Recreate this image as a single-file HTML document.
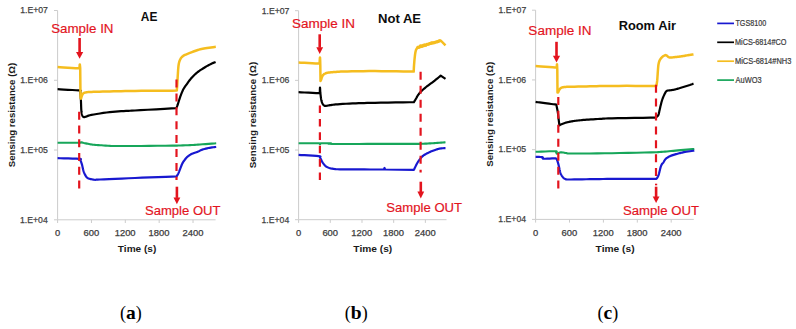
<!DOCTYPE html>
<html><head><meta charset="utf-8"><title>Sensing resistance</title>
<style>
html,body{margin:0;padding:0;background:#fff;}
body{width:796px;height:329px;overflow:hidden;font-family:"Liberation Sans", sans-serif;}
svg{display:block;}
</style></head><body>
<svg width="796" height="329" viewBox="0 0 796 329">
<line x1="57.60" y1="10.50" x2="57.60" y2="219.80" stroke="#cccccc" stroke-width="1.00"/>
<line x1="57.60" y1="219.80" x2="215.60" y2="219.80" stroke="#cccccc" stroke-width="1.00"/>
<line x1="54.00" y1="10.50" x2="57.60" y2="10.50" stroke="#cccccc" stroke-width="1.00"/>
<text x="20.24" y="13.30" font-family='"Liberation Sans", sans-serif' font-size="9.60" font-weight="normal" fill="#404040" text-anchor="start" textLength="27.70" lengthAdjust="spacingAndGlyphs" stroke="#404040" stroke-width="0.25">1.E+07</text>
<line x1="54.00" y1="80.27" x2="57.60" y2="80.27" stroke="#cccccc" stroke-width="1.00"/>
<text x="20.19" y="83.07" font-family='"Liberation Sans", sans-serif' font-size="9.60" font-weight="normal" fill="#404040" text-anchor="start" textLength="27.70" lengthAdjust="spacingAndGlyphs" stroke="#404040" stroke-width="0.25">1.E+06</text>
<line x1="54.00" y1="150.03" x2="57.60" y2="150.03" stroke="#cccccc" stroke-width="1.00"/>
<text x="20.17" y="152.83" font-family='"Liberation Sans", sans-serif' font-size="9.60" font-weight="normal" fill="#404040" text-anchor="start" textLength="27.70" lengthAdjust="spacingAndGlyphs" stroke="#404040" stroke-width="0.25">1.E+05</text>
<line x1="54.00" y1="219.80" x2="57.60" y2="219.80" stroke="#cccccc" stroke-width="1.00"/>
<text x="20.06" y="222.60" font-family='"Liberation Sans", sans-serif' font-size="9.60" font-weight="normal" fill="#404040" text-anchor="start" textLength="27.70" lengthAdjust="spacingAndGlyphs" stroke="#404040" stroke-width="0.25">1.E+04</text>
<line x1="57.60" y1="219.80" x2="57.60" y2="223.00" stroke="#cccccc" stroke-width="1.00"/>
<text x="54.99" y="235.80" font-family='"Liberation Sans", sans-serif' font-size="8.31" font-weight="normal" fill="#404040" text-anchor="start" textLength="5.21" lengthAdjust="spacingAndGlyphs" stroke="#404040" stroke-width="0.25">0</text>
<line x1="91.46" y1="219.80" x2="91.46" y2="223.00" stroke="#cccccc" stroke-width="1.00"/>
<text x="83.58" y="235.80" font-family='"Liberation Sans", sans-serif' font-size="8.31" font-weight="normal" fill="#404040" text-anchor="start" textLength="15.64" lengthAdjust="spacingAndGlyphs" stroke="#404040" stroke-width="0.25">600</text>
<line x1="125.31" y1="219.80" x2="125.31" y2="223.00" stroke="#cccccc" stroke-width="1.00"/>
<text x="114.71" y="235.80" font-family='"Liberation Sans", sans-serif' font-size="8.31" font-weight="normal" fill="#404040" text-anchor="start" textLength="20.86" lengthAdjust="spacingAndGlyphs" stroke="#404040" stroke-width="0.25">1200</text>
<line x1="159.17" y1="219.80" x2="159.17" y2="223.00" stroke="#cccccc" stroke-width="1.00"/>
<text x="148.57" y="235.80" font-family='"Liberation Sans", sans-serif' font-size="8.31" font-weight="normal" fill="#404040" text-anchor="start" textLength="20.86" lengthAdjust="spacingAndGlyphs" stroke="#404040" stroke-width="0.25">1800</text>
<line x1="193.03" y1="219.80" x2="193.03" y2="223.00" stroke="#cccccc" stroke-width="1.00"/>
<text x="182.55" y="235.80" font-family='"Liberation Sans", sans-serif' font-size="8.31" font-weight="normal" fill="#404040" text-anchor="start" textLength="20.86" lengthAdjust="spacingAndGlyphs" stroke="#404040" stroke-width="0.25">2400</text>
<text x="117.89" y="252.00" font-family='"Liberation Sans", sans-serif' font-size="9.66" font-weight="bold" fill="#1a1a1a" text-anchor="start" textLength="38.41" lengthAdjust="spacingAndGlyphs">Time (s)</text>
<text x="-0.28" y="0" transform="translate(14.60,167.00) rotate(-90)" font-family='"Liberation Sans", sans-serif' font-size="8.43" font-weight="bold" fill="#1a1a1a" textLength="104.56" lengthAdjust="spacingAndGlyphs">Sensing resistance (Ω)</text>
<line x1="298.60" y1="10.70" x2="298.60" y2="219.70" stroke="#cccccc" stroke-width="1.00"/>
<line x1="298.60" y1="219.70" x2="446.50" y2="219.70" stroke="#cccccc" stroke-width="1.00"/>
<line x1="295.00" y1="10.70" x2="298.60" y2="10.70" stroke="#cccccc" stroke-width="1.00"/>
<text x="261.74" y="13.50" font-family='"Liberation Sans", sans-serif' font-size="9.60" font-weight="normal" fill="#404040" text-anchor="start" textLength="27.70" lengthAdjust="spacingAndGlyphs" stroke="#404040" stroke-width="0.25">1.E+07</text>
<line x1="295.00" y1="80.37" x2="298.60" y2="80.37" stroke="#cccccc" stroke-width="1.00"/>
<text x="261.69" y="83.17" font-family='"Liberation Sans", sans-serif' font-size="9.60" font-weight="normal" fill="#404040" text-anchor="start" textLength="27.70" lengthAdjust="spacingAndGlyphs" stroke="#404040" stroke-width="0.25">1.E+06</text>
<line x1="295.00" y1="150.03" x2="298.60" y2="150.03" stroke="#cccccc" stroke-width="1.00"/>
<text x="261.67" y="152.83" font-family='"Liberation Sans", sans-serif' font-size="9.60" font-weight="normal" fill="#404040" text-anchor="start" textLength="27.70" lengthAdjust="spacingAndGlyphs" stroke="#404040" stroke-width="0.25">1.E+05</text>
<line x1="295.00" y1="219.70" x2="298.60" y2="219.70" stroke="#cccccc" stroke-width="1.00"/>
<text x="261.56" y="222.50" font-family='"Liberation Sans", sans-serif' font-size="9.60" font-weight="normal" fill="#404040" text-anchor="start" textLength="27.70" lengthAdjust="spacingAndGlyphs" stroke="#404040" stroke-width="0.25">1.E+04</text>
<line x1="298.60" y1="219.70" x2="298.60" y2="222.90" stroke="#cccccc" stroke-width="1.00"/>
<text x="295.99" y="235.80" font-family='"Liberation Sans", sans-serif' font-size="8.31" font-weight="normal" fill="#404040" text-anchor="start" textLength="5.21" lengthAdjust="spacingAndGlyphs" stroke="#404040" stroke-width="0.25">0</text>
<line x1="330.29" y1="219.70" x2="330.29" y2="222.90" stroke="#cccccc" stroke-width="1.00"/>
<text x="322.42" y="235.80" font-family='"Liberation Sans", sans-serif' font-size="8.31" font-weight="normal" fill="#404040" text-anchor="start" textLength="15.64" lengthAdjust="spacingAndGlyphs" stroke="#404040" stroke-width="0.25">600</text>
<line x1="361.99" y1="219.70" x2="361.99" y2="222.90" stroke="#cccccc" stroke-width="1.00"/>
<text x="351.38" y="235.80" font-family='"Liberation Sans", sans-serif' font-size="8.31" font-weight="normal" fill="#404040" text-anchor="start" textLength="20.86" lengthAdjust="spacingAndGlyphs" stroke="#404040" stroke-width="0.25">1200</text>
<line x1="393.68" y1="219.70" x2="393.68" y2="222.90" stroke="#cccccc" stroke-width="1.00"/>
<text x="383.08" y="235.80" font-family='"Liberation Sans", sans-serif' font-size="8.31" font-weight="normal" fill="#404040" text-anchor="start" textLength="20.86" lengthAdjust="spacingAndGlyphs" stroke="#404040" stroke-width="0.25">1800</text>
<line x1="425.37" y1="219.70" x2="425.37" y2="222.90" stroke="#cccccc" stroke-width="1.00"/>
<text x="414.89" y="235.80" font-family='"Liberation Sans", sans-serif' font-size="8.31" font-weight="normal" fill="#404040" text-anchor="start" textLength="20.86" lengthAdjust="spacingAndGlyphs" stroke="#404040" stroke-width="0.25">2400</text>
<text x="353.39" y="252.00" font-family='"Liberation Sans", sans-serif' font-size="9.66" font-weight="bold" fill="#1a1a1a" text-anchor="start" textLength="38.82" lengthAdjust="spacingAndGlyphs">Time (s)</text>
<text x="-0.28" y="0" transform="translate(255.50,167.90) rotate(-90)" font-family='"Liberation Sans", sans-serif' font-size="8.58" font-weight="bold" fill="#1a1a1a" textLength="106.37" lengthAdjust="spacingAndGlyphs">Sensing resistance (Ω)</text>
<line x1="535.60" y1="10.20" x2="535.60" y2="219.40" stroke="#cccccc" stroke-width="1.00"/>
<line x1="535.60" y1="219.40" x2="693.80" y2="219.40" stroke="#cccccc" stroke-width="1.00"/>
<line x1="532.00" y1="10.20" x2="535.60" y2="10.20" stroke="#cccccc" stroke-width="1.00"/>
<text x="498.54" y="13.00" font-family='"Liberation Sans", sans-serif' font-size="9.60" font-weight="normal" fill="#404040" text-anchor="start" textLength="27.70" lengthAdjust="spacingAndGlyphs" stroke="#404040" stroke-width="0.25">1.E+07</text>
<line x1="532.00" y1="79.93" x2="535.60" y2="79.93" stroke="#cccccc" stroke-width="1.00"/>
<text x="498.49" y="82.73" font-family='"Liberation Sans", sans-serif' font-size="9.60" font-weight="normal" fill="#404040" text-anchor="start" textLength="27.70" lengthAdjust="spacingAndGlyphs" stroke="#404040" stroke-width="0.25">1.E+06</text>
<line x1="532.00" y1="149.67" x2="535.60" y2="149.67" stroke="#cccccc" stroke-width="1.00"/>
<text x="498.47" y="152.47" font-family='"Liberation Sans", sans-serif' font-size="9.60" font-weight="normal" fill="#404040" text-anchor="start" textLength="27.70" lengthAdjust="spacingAndGlyphs" stroke="#404040" stroke-width="0.25">1.E+05</text>
<line x1="532.00" y1="219.40" x2="535.60" y2="219.40" stroke="#cccccc" stroke-width="1.00"/>
<text x="498.36" y="222.20" font-family='"Liberation Sans", sans-serif' font-size="9.60" font-weight="normal" fill="#404040" text-anchor="start" textLength="27.70" lengthAdjust="spacingAndGlyphs" stroke="#404040" stroke-width="0.25">1.E+04</text>
<line x1="535.60" y1="219.40" x2="535.60" y2="222.60" stroke="#cccccc" stroke-width="1.00"/>
<text x="532.99" y="235.80" font-family='"Liberation Sans", sans-serif' font-size="8.31" font-weight="normal" fill="#404040" text-anchor="start" textLength="5.21" lengthAdjust="spacingAndGlyphs" stroke="#404040" stroke-width="0.25">0</text>
<line x1="569.50" y1="219.40" x2="569.50" y2="222.60" stroke="#cccccc" stroke-width="1.00"/>
<text x="561.62" y="235.80" font-family='"Liberation Sans", sans-serif' font-size="8.31" font-weight="normal" fill="#404040" text-anchor="start" textLength="15.64" lengthAdjust="spacingAndGlyphs" stroke="#404040" stroke-width="0.25">600</text>
<line x1="603.40" y1="219.40" x2="603.40" y2="222.60" stroke="#cccccc" stroke-width="1.00"/>
<text x="592.80" y="235.80" font-family='"Liberation Sans", sans-serif' font-size="8.31" font-weight="normal" fill="#404040" text-anchor="start" textLength="20.86" lengthAdjust="spacingAndGlyphs" stroke="#404040" stroke-width="0.25">1200</text>
<line x1="637.30" y1="219.40" x2="637.30" y2="222.60" stroke="#cccccc" stroke-width="1.00"/>
<text x="626.70" y="235.80" font-family='"Liberation Sans", sans-serif' font-size="8.31" font-weight="normal" fill="#404040" text-anchor="start" textLength="20.86" lengthAdjust="spacingAndGlyphs" stroke="#404040" stroke-width="0.25">1800</text>
<line x1="671.20" y1="219.40" x2="671.20" y2="222.60" stroke="#cccccc" stroke-width="1.00"/>
<text x="660.72" y="235.80" font-family='"Liberation Sans", sans-serif' font-size="8.31" font-weight="normal" fill="#404040" text-anchor="start" textLength="20.86" lengthAdjust="spacingAndGlyphs" stroke="#404040" stroke-width="0.25">2400</text>
<text x="595.59" y="252.00" font-family='"Liberation Sans", sans-serif' font-size="9.66" font-weight="bold" fill="#1a1a1a" text-anchor="start" textLength="39.02" lengthAdjust="spacingAndGlyphs">Time (s)</text>
<text x="-0.28" y="0" transform="translate(493.30,166.50) rotate(-90)" font-family='"Liberation Sans", sans-serif' font-size="8.72" font-weight="bold" fill="#1a1a1a" textLength="104.96" lengthAdjust="spacingAndGlyphs">Sensing resistance (Ω)</text>
<polyline points="57.60,142.70 60.22,142.71 64.03,142.72 68.46,142.73 72.90,142.74 76.78,142.73 79.50,142.70 80.91,142.63 81.46,142.52 81.43,142.40 81.14,142.29 80.90,142.21 81.00,142.20 81.38,142.25 81.78,142.36 82.22,142.49 82.72,142.66 83.31,142.83 84.00,143.00 84.84,143.18 85.81,143.39 86.88,143.61 87.96,143.82 89.02,144.02 90.00,144.20 90.89,144.35 91.74,144.49 92.56,144.61 93.37,144.71 94.18,144.81 95.00,144.90 95.74,144.97 96.36,145.01 96.98,145.04 97.72,145.08 98.69,145.13 100.00,145.20 101.64,145.31 103.51,145.46 105.61,145.62 107.94,145.77 110.50,145.91 113.30,146.00 116.20,146.05 119.16,146.07 122.36,146.07 125.95,146.06 130.11,146.03 135.00,146.00 141.31,145.95 149.05,145.88 157.36,145.80 165.36,145.72 172.20,145.65 177.00,145.60 178.45,145.55 180.48,145.47 182.88,145.39 185.41,145.29 187.86,145.19 190.00,145.10 191.77,145.01 193.33,144.93 194.80,144.84 196.32,144.75 198.01,144.64 200.00,144.50 202.53,144.32 205.54,144.10 208.72,143.86 211.77,143.63 214.37,143.44 216.20,143.30" fill="none" stroke="#17a65a" stroke-width="2.10" stroke-linejoin="round" stroke-linecap="butt"/>
<polyline points="57.60,158.20 60.16,158.26 63.90,158.35 68.23,158.45 72.57,158.56 76.35,158.68 79.00,158.80 80.38,158.93 80.94,159.08 80.94,159.24 80.64,159.39 80.30,159.51 80.20,159.60 80.38,160.08 80.64,160.72 80.94,161.49 81.26,162.37 81.59,163.31 81.90,164.30 82.19,165.39 82.47,166.63 82.76,167.94 83.05,169.25 83.36,170.49 83.70,171.60 84.07,172.59 84.46,173.52 84.86,174.39 85.28,175.18 85.69,175.88 86.10,176.50 86.49,177.00 86.87,177.39 87.26,177.70 87.65,177.95 88.06,178.18 88.50,178.40 88.97,178.61 89.47,178.79 89.99,178.94 90.52,179.07 91.06,179.18 91.60,179.30 92.13,179.42 92.65,179.53 93.18,179.62 93.74,179.71 94.34,179.77 95.00,179.80 95.39,179.81 95.44,179.80 95.53,179.78 96.05,179.72 97.41,179.63 100.00,179.50 104.02,179.32 109.20,179.09 115.21,178.83 121.73,178.55 128.44,178.27 135.00,178.00 142.03,177.72 149.92,177.41 157.99,177.11 165.57,176.82 172.00,176.58 176.60,176.40 176.78,176.10 177.04,175.70 177.34,175.21 177.67,174.67 178.00,174.09 178.30,173.50 178.58,172.89 178.84,172.26 179.11,171.59 179.38,170.87 179.68,170.11 180.00,169.30 180.36,168.39 180.74,167.39 181.14,166.33 181.56,165.28 181.98,164.29 182.40,163.40 182.83,162.62 183.26,161.90 183.71,161.24 184.15,160.63 184.58,160.05 185.00,159.50 185.39,158.99 185.76,158.53 186.11,158.10 186.48,157.70 186.87,157.30 187.30,156.90 187.78,156.49 188.31,156.08 188.86,155.68 189.42,155.29 189.97,154.93 190.50,154.60 190.98,154.32 191.43,154.07 191.86,153.86 192.32,153.65 192.82,153.43 193.40,153.20 194.07,152.95 194.82,152.70 195.61,152.44 196.43,152.17 197.23,151.89 198.00,151.60 198.70,151.29 199.34,150.96 199.98,150.61 200.66,150.27 201.41,149.93 202.30,149.60 203.35,149.28 204.54,148.95 205.81,148.63 207.11,148.33 208.39,148.05 209.60,147.80 210.82,147.59 212.10,147.40 213.36,147.24 214.51,147.10 215.49,146.99 216.20,146.90" fill="none" stroke="#1818d0" stroke-width="2.20" stroke-linejoin="round" stroke-linecap="butt"/>
<polyline points="57.60,89.20 60.12,89.34 63.80,89.54 68.06,89.78 72.34,90.01 76.07,90.23 78.70,90.40 80.10,90.52 80.71,90.61 80.77,90.68 80.54,90.73 80.26,90.77 80.20,90.80 80.28,91.79 80.39,93.16 80.53,94.77 80.66,96.53 80.79,98.31 80.90,100.00 80.98,101.68 81.04,103.48 81.10,105.29 81.16,107.04 81.22,108.64 81.30,110.00 81.40,111.10 81.50,112.00 81.61,112.74 81.73,113.38 81.86,113.95 82.00,114.50 82.15,115.01 82.30,115.44 82.46,115.80 82.63,116.11 82.81,116.37 83.00,116.60 83.19,116.79 83.40,116.92 83.61,117.01 83.83,117.07 84.06,117.09 84.30,117.10 84.52,117.09 84.70,117.05 84.89,116.99 85.14,116.89 85.49,116.76 86.00,116.60 86.55,116.40 87.08,116.16 87.72,115.89 88.59,115.59 89.80,115.26 91.50,114.90 93.82,114.48 96.70,113.99 99.93,113.47 103.30,112.96 106.63,112.49 109.70,112.10 112.61,111.80 115.54,111.55 118.43,111.35 121.18,111.18 123.73,111.04 126.00,110.90 127.55,110.81 128.34,110.78 128.94,110.78 129.88,110.75 131.72,110.67 135.00,110.50 140.49,110.19 147.90,109.76 156.21,109.28 164.40,108.80 171.43,108.38 176.30,108.10 176.44,107.79 176.62,107.39 176.84,106.91 177.08,106.34 177.34,105.70 177.60,105.00 177.87,104.19 178.16,103.27 178.47,102.27 178.78,101.25 179.09,100.25 179.40,99.30 179.69,98.42 179.98,97.56 180.27,96.72 180.56,95.89 180.87,95.05 181.20,94.20 181.55,93.33 181.90,92.44 182.27,91.56 182.66,90.68 183.07,89.82 183.50,89.00 183.93,88.25 184.37,87.57 184.82,86.91 185.31,86.22 185.86,85.47 186.50,84.60 187.23,83.58 188.04,82.44 188.91,81.23 189.82,80.00 190.76,78.81 191.70,77.70 192.65,76.67 193.61,75.69 194.60,74.73 195.62,73.80 196.69,72.90 197.80,72.00 199.01,71.10 200.31,70.20 201.66,69.32 203.00,68.48 204.26,67.70 205.40,67.00 206.39,66.40 207.29,65.89 208.11,65.43 208.89,65.01 209.68,64.61 210.50,64.20 211.41,63.76 212.39,63.31 213.37,62.88 214.28,62.48 215.05,62.14 215.60,61.90" fill="none" stroke="#000000" stroke-width="2.20" stroke-linejoin="round" stroke-linecap="butt"/>
<polyline points="57.60,67.00 60.05,67.16 63.62,67.40 67.76,67.68 71.92,67.95 75.55,68.17 78.10,68.30 79.45,68.32 80.03,68.25 80.08,68.13 79.84,68.00 79.57,67.88 79.50,67.80 79.53,67.36 79.57,66.69 79.62,65.93 79.68,65.22 79.74,64.69 79.80,64.50 79.87,64.73 79.94,65.29 80.02,66.04 80.09,66.84 80.16,67.54 80.20,68.00 80.50,97.50 80.55,97.67 80.61,97.94 80.69,98.24 80.78,98.50 80.88,98.65 81.00,98.60 81.13,98.32 81.28,97.85 81.44,97.26 81.61,96.63 81.80,96.02 82.00,95.50 82.20,95.05 82.41,94.62 82.62,94.21 82.87,93.83 83.16,93.49 83.50,93.20 83.89,92.96 84.31,92.78 84.78,92.63 85.30,92.51 85.87,92.40 86.50,92.30 87.06,92.21 87.52,92.13 88.03,92.07 88.76,92.02 89.86,91.97 91.50,91.90 93.73,91.82 96.43,91.74 99.50,91.66 102.85,91.57 106.38,91.48 110.00,91.40 113.60,91.31 117.23,91.23 121.04,91.14 125.18,91.05 129.79,90.97 135.00,90.90 141.48,90.83 149.24,90.77 157.46,90.72 165.34,90.67 172.06,90.63 176.80,90.60 176.85,89.91 176.93,88.98 177.02,87.86 177.11,86.62 177.21,85.32 177.30,84.00 177.38,82.65 177.46,81.21 177.53,79.71 177.61,78.16 177.70,76.59 177.80,75.00 177.91,73.34 178.01,71.57 178.13,69.78 178.26,68.04 178.42,66.42 178.60,65.00 178.80,63.80 179.02,62.76 179.26,61.85 179.53,61.03 179.84,60.25 180.20,59.50 180.58,58.78 180.98,58.13 181.42,57.52 181.92,56.96 182.50,56.43 183.20,55.90 184.01,55.40 184.91,54.95 185.91,54.53 186.97,54.10 188.11,53.67 189.30,53.20 190.59,52.68 191.99,52.11 193.46,51.54 194.94,50.97 196.41,50.45 197.80,50.00 199.09,49.63 200.30,49.31 201.48,49.04 202.69,48.80 203.98,48.55 205.40,48.30 207.09,48.02 209.04,47.73 211.07,47.44 213.00,47.18 214.64,46.96 215.80,46.80" fill="none" stroke="#f5bd1f" stroke-width="2.50" stroke-linejoin="round" stroke-linecap="butt"/>
<polyline points="298.60,143.20 319.50,143.20 319.55,143.34 319.63,143.56 319.72,143.81 319.81,144.05 319.91,144.23 320.00,144.30 320.09,144.24 320.19,144.09 320.28,143.87 320.37,143.64 320.45,143.43 320.50,143.30 331.00,143.20 330.62,143.28 329.70,143.41 328.81,143.55 328.52,143.69 329.39,143.82 332.00,143.90 336.71,143.94 343.15,143.95 350.75,143.94 358.96,143.93 367.23,143.91 375.00,143.90 382.91,143.90 391.52,143.90 400.19,143.90 408.26,143.90 415.08,143.90 420.00,143.90 420.87,143.86 422.08,143.80 423.51,143.73 425.05,143.66 426.59,143.58 428.00,143.50 429.29,143.42 430.54,143.35 431.79,143.27 433.07,143.19 434.39,143.10 435.80,143.00 437.42,142.89 439.25,142.76 441.14,142.62 442.91,142.49 444.42,142.38 445.50,142.30" fill="none" stroke="#17a65a" stroke-width="2.10" stroke-linejoin="round" stroke-linecap="butt"/>
<polyline points="298.60,154.90 301.01,155.03 304.51,155.22 308.58,155.44 312.66,155.68 316.22,155.90 318.70,156.10 320.00,156.28 320.51,156.46 320.51,156.62 320.22,156.78 319.90,156.91 319.80,157.00 319.90,157.20 320.04,157.47 320.20,157.80 320.39,158.17 320.59,158.57 320.80,159.00 321.03,159.47 321.27,159.99 321.53,160.55 321.81,161.12 322.10,161.68 322.40,162.20 322.72,162.70 323.06,163.20 323.42,163.69 323.78,164.16 324.14,164.60 324.50,165.00 324.83,165.36 325.15,165.69 325.47,165.99 325.80,166.27 326.17,166.53 326.60,166.80 327.09,167.06 327.62,167.32 328.19,167.57 328.78,167.80 329.39,168.01 330.00,168.20 330.60,168.36 331.18,168.50 331.78,168.61 332.42,168.71 333.12,168.81 333.90,168.90 334.45,168.99 334.70,169.06 335.01,169.13 335.74,169.19 337.29,169.25 340.00,169.30 344.46,169.35 350.49,169.39 357.32,169.43 364.19,169.46 370.34,169.48 375.00,169.50 378.11,169.51 380.26,169.51 381.69,169.51 382.63,169.51 383.32,169.50 384.00,169.50 384.05,169.30 384.13,169.00 384.22,168.66 384.31,168.33 384.41,168.09 384.50,168.00 384.59,168.09 384.69,168.33 384.78,168.66 384.87,169.00 384.95,169.30 385.00,169.50 413.90,169.80 414.07,169.45 414.30,168.97 414.57,168.40 414.87,167.77 415.19,167.13 415.50,166.50 415.80,165.88 416.11,165.25 416.43,164.60 416.77,163.93 417.16,163.23 417.60,162.50 418.12,161.71 418.72,160.84 419.36,159.96 420.00,159.09 420.63,158.29 421.20,157.60 421.71,157.04 422.17,156.56 422.62,156.16 423.06,155.79 423.51,155.45 424.00,155.10 424.51,154.76 425.03,154.46 425.56,154.17 426.11,153.89 426.69,153.60 427.30,153.30 427.95,152.97 428.63,152.63 429.34,152.29 430.06,151.94 430.78,151.61 431.50,151.30 432.22,151.00 432.97,150.71 433.71,150.43 434.44,150.17 435.15,149.92 435.80,149.70 436.40,149.50 436.96,149.33 437.49,149.18 438.00,149.04 438.50,148.92 439.00,148.80 439.49,148.69 439.96,148.59 440.42,148.50 440.89,148.42 441.38,148.36 441.90,148.30 442.50,148.26 443.18,148.23 443.88,148.22 444.54,148.21 445.10,148.21 445.50,148.20" fill="none" stroke="#1818d0" stroke-width="2.20" stroke-linejoin="round" stroke-linecap="butt"/>
<polyline points="298.60,92.20 301.01,92.32 304.51,92.49 308.58,92.69 312.66,92.88 316.22,93.03 318.70,93.10 320.00,93.08 320.51,92.99 320.51,92.86 320.22,92.71 319.90,92.58 319.80,92.50 319.82,91.85 319.85,90.87 319.88,89.74 319.92,88.69 319.96,87.91 320.00,87.60 320.05,87.91 320.10,88.69 320.16,89.74 320.22,90.87 320.27,91.85 320.30,92.50 320.39,93.30 320.52,94.42 320.67,95.74 320.84,97.12 321.02,98.42 321.20,99.50 321.39,100.38 321.60,101.17 321.81,101.88 322.04,102.51 322.27,103.08 322.50,103.60 322.74,104.05 322.98,104.42 323.23,104.72 323.49,104.98 323.74,105.20 324.00,105.40 324.23,105.57 324.42,105.71 324.62,105.81 324.86,105.87 325.17,105.90 325.60,105.90 326.13,105.86 326.74,105.76 327.43,105.64 328.19,105.49 329.05,105.34 330.00,105.20 330.96,105.06 331.90,104.92 332.94,104.77 334.16,104.61 335.68,104.46 337.60,104.30 340.01,104.13 342.84,103.96 345.98,103.77 349.27,103.60 352.59,103.44 355.80,103.30 358.71,103.19 361.40,103.10 364.11,103.03 367.10,102.96 370.65,102.88 375.00,102.80 380.79,102.70 387.95,102.59 395.65,102.47 403.09,102.36 409.44,102.27 413.90,102.20 414.15,101.77 414.51,101.17 414.92,100.46 415.37,99.71 415.81,98.97 416.20,98.30 416.54,97.71 416.85,97.14 417.16,96.58 417.47,96.03 417.81,95.47 418.20,94.90 418.62,94.32 419.06,93.74 419.52,93.16 420.02,92.56 420.58,91.94 421.20,91.30 421.88,90.64 422.60,89.96 423.38,89.26 424.22,88.54 425.12,87.79 426.10,87.00 427.18,86.17 428.36,85.30 429.60,84.40 430.88,83.48 432.16,82.54 433.40,81.60 434.70,80.58 436.10,79.45 437.51,78.31 438.81,77.25 439.91,76.35 440.70,75.70 445.50,78.80" fill="none" stroke="#000000" stroke-width="2.20" stroke-linejoin="round" stroke-linecap="butt"/>
<polyline points="298.60,62.60 300.93,62.71 304.32,62.87 308.26,63.06 312.21,63.25 315.67,63.40 318.10,63.50 319.41,63.53 319.99,63.51 320.07,63.46 319.88,63.39 319.65,63.33 319.60,63.30 319.64,62.52 319.71,61.30 319.78,59.93 319.86,58.66 319.93,57.76 320.00,57.50 320.06,58.07 320.12,59.29 320.18,60.89 320.23,62.56 320.27,64.03 320.30,65.00 320.50,81.00 320.57,80.85 320.67,80.67 320.79,80.44 320.92,80.17 321.06,79.85 321.20,79.50 321.35,79.07 321.50,78.57 321.66,78.02 321.83,77.47 322.01,76.95 322.20,76.50 322.39,76.11 322.59,75.76 322.79,75.44 323.00,75.14 323.24,74.86 323.50,74.60 323.79,74.35 324.10,74.13 324.44,73.92 324.79,73.74 325.14,73.56 325.50,73.40 325.81,73.25 326.06,73.13 326.33,73.02 326.66,72.91 327.13,72.81 327.80,72.70 328.70,72.58 329.79,72.46 331.01,72.34 332.31,72.22 333.66,72.11 335.00,72.00 336.09,71.90 336.92,71.81 337.79,71.73 338.99,71.65 340.83,71.58 343.60,71.50 347.43,71.42 352.11,71.33 357.42,71.24 363.15,71.16 369.08,71.11 375.00,71.10 381.48,71.14 388.79,71.22 396.31,71.32 403.40,71.44 409.41,71.54 413.70,71.60 413.74,70.83 413.79,69.78 413.84,68.53 413.91,67.15 414.00,65.72 414.10,64.30 414.22,62.81 414.36,61.18 414.52,59.49 414.68,57.83 414.84,56.31 415.00,55.00 415.15,53.92 415.29,53.01 415.43,52.22 415.57,51.53 415.73,50.90 415.90,50.30 416.11,49.74 416.35,49.24 416.61,48.81 416.85,48.44 417.05,48.13 417.20,47.90 417.92,47.70 418.93,47.43 420.12,47.11 421.38,46.76 422.57,46.42 423.60,46.10 424.44,45.81 425.18,45.53 425.86,45.24 426.53,44.96 427.23,44.68 428.00,44.40 428.86,44.11 429.79,43.81 430.75,43.52 431.70,43.23 432.59,42.95 433.40,42.70 434.10,42.47 434.73,42.26 435.31,42.06 435.86,41.87 436.42,41.68 437.00,41.50 437.65,41.31 438.36,41.11 439.07,40.92 439.74,40.75 440.30,40.61 440.70,40.50 445.50,45.40" fill="none" stroke="#f5bd1f" stroke-width="2.50" stroke-linejoin="round" stroke-linecap="butt"/>
<polyline points="535.60,151.80 537.94,151.72 541.34,151.59 545.29,151.45 549.26,151.32 552.70,151.23 555.10,151.20 556.34,151.26 556.81,151.39 556.77,151.56 556.46,151.74 556.12,151.90 556.00,152.00 556.10,152.23 556.24,152.56 556.41,152.95 556.59,153.33 556.79,153.63 557.00,153.80 557.24,153.81 557.52,153.70 557.81,153.51 558.09,153.30 558.33,153.12 558.50,153.00 558.77,152.91 559.12,152.77 559.55,152.61 560.04,152.46 560.60,152.34 561.20,152.30 561.86,152.34 562.60,152.44 563.39,152.58 564.23,152.73 565.10,152.88 566.00,153.00 566.55,153.10 566.69,153.21 566.86,153.31 567.51,153.40 569.11,153.47 572.10,153.50 576.75,153.50 582.74,153.48 589.68,153.44 597.14,153.37 604.72,153.29 612.00,153.20 619.61,153.07 627.99,152.91 636.49,152.73 644.44,152.56 651.17,152.40 656.00,152.30 656.93,152.23 658.19,152.14 659.69,152.03 661.37,151.90 663.16,151.75 665.00,151.60 666.90,151.43 668.91,151.24 671.04,151.04 673.27,150.83 675.60,150.62 678.00,150.40 680.71,150.16 683.79,149.90 686.96,149.62 689.95,149.37 692.49,149.15 694.30,149.00" fill="none" stroke="#17a65a" stroke-width="2.10" stroke-linejoin="round" stroke-linecap="butt"/>
<polyline points="535.60,156.90 536.42,156.92 537.60,156.93 538.98,156.96 540.37,157.00 541.61,157.08 542.50,157.20 542.89,157.40 542.89,157.68 542.72,157.99 542.63,158.30 542.85,158.55 543.60,158.70 545.12,158.74 547.27,158.69 549.72,158.59 552.16,158.47 554.26,158.37 555.70,158.30 555.84,158.42 556.02,158.54 556.24,158.70 556.49,158.94 556.75,159.30 557.00,159.80 557.26,160.49 557.55,161.34 557.85,162.31 558.15,163.34 558.44,164.39 558.70,165.40 558.94,166.42 559.16,167.49 559.37,168.58 559.57,169.64 559.78,170.63 560.00,171.50 560.22,172.24 560.43,172.88 560.64,173.44 560.87,173.97 561.12,174.48 561.40,175.00 561.72,175.55 562.07,176.10 562.44,176.64 562.82,177.15 563.21,177.61 563.60,178.00 563.99,178.31 564.38,178.57 564.78,178.77 565.19,178.93 565.59,179.07 566.00,179.20 566.19,179.31 566.12,179.39 566.06,179.44 566.26,179.48 566.98,179.50 568.50,179.50 570.98,179.48 574.24,179.44 578.03,179.39 582.09,179.32 586.17,179.26 590.00,179.20 593.38,179.15 596.47,179.09 599.57,179.03 602.99,178.98 607.03,178.93 612.00,178.90 618.62,178.88 626.79,178.88 635.58,178.88 644.06,178.89 651.31,178.90 656.40,178.90 656.56,178.68 656.78,178.37 657.04,178.01 657.31,177.61 657.57,177.20 657.80,176.80 657.99,176.42 658.16,176.05 658.32,175.66 658.48,175.25 658.64,174.80 658.80,174.30 658.97,173.73 659.13,173.10 659.30,172.43 659.47,171.74 659.63,171.06 659.80,170.40 659.96,169.75 660.13,169.08 660.29,168.42 660.45,167.77 660.62,167.16 660.80,166.60 660.99,166.09 661.18,165.61 661.37,165.16 661.58,164.75 661.79,164.36 662.00,164.00 662.22,163.69 662.44,163.44 662.67,163.21 662.90,162.99 663.15,162.72 663.40,162.40 663.66,161.99 663.94,161.51 664.22,161.01 664.51,160.50 664.80,160.02 665.10,159.60 665.39,159.26 665.66,158.96 665.94,158.70 666.24,158.45 666.59,158.19 667.00,157.90 667.48,157.58 668.00,157.24 668.58,156.89 669.19,156.54 669.83,156.21 670.50,155.90 671.21,155.62 671.97,155.36 672.77,155.11 673.58,154.87 674.40,154.63 675.20,154.40 675.99,154.17 676.79,153.94 677.58,153.72 678.38,153.51 679.19,153.30 680.00,153.10 680.77,152.91 681.49,152.73 682.22,152.56 683.01,152.38 683.92,152.20 685.00,152.00 686.41,151.77 688.13,151.50 689.96,151.23 691.73,150.97 693.24,150.76 694.30,150.60" fill="none" stroke="#1818d0" stroke-width="2.20" stroke-linejoin="round" stroke-linecap="butt"/>
<polyline points="535.60,101.90 536.60,102.04 537.97,102.23 539.59,102.46 541.38,102.71 543.21,102.96 545.00,103.20 546.90,103.44 549.04,103.71 551.24,103.98 553.30,104.23 555.05,104.45 556.30,104.60 556.47,105.44 556.71,106.60 557.00,107.97 557.30,109.44 557.57,110.89 557.80,112.20 557.97,113.39 558.12,114.54 558.24,115.68 558.36,116.80 558.47,117.90 558.60,119.00 558.74,120.15 558.90,121.37 559.05,122.58 559.19,123.69 559.31,124.62 559.40,125.30 559.55,125.21 559.73,125.09 559.96,124.94 560.24,124.77 560.59,124.59 561.00,124.40 561.51,124.19 562.13,123.95 562.80,123.70 563.50,123.45 564.18,123.21 564.80,123.00 565.36,122.82 565.88,122.66 566.38,122.51 566.89,122.37 567.42,122.24 568.00,122.10 568.61,121.96 569.23,121.83 569.88,121.69 570.57,121.56 571.30,121.43 572.10,121.30 572.95,121.17 573.83,121.03 574.76,120.90 575.76,120.77 576.83,120.63 578.00,120.50 579.23,120.37 580.52,120.23 581.89,120.10 583.36,119.97 584.95,119.83 586.70,119.70 588.67,119.56 590.84,119.43 593.14,119.29 595.49,119.15 597.81,119.02 600.00,118.90 601.71,118.79 602.93,118.69 604.12,118.59 605.72,118.50 608.20,118.40 612.00,118.30 617.92,118.18 625.75,118.05 634.45,117.91 642.99,117.79 650.31,117.68 655.40,117.60 655.72,117.39 656.18,117.13 656.72,116.81 657.27,116.41 657.79,115.95 658.20,115.40 658.51,114.74 658.75,113.96 658.96,113.11 659.14,112.23 659.31,111.34 659.50,110.50 659.69,109.71 659.86,108.94 660.02,108.18 660.20,107.40 660.38,106.58 660.60,105.70 660.85,104.73 661.11,103.69 661.39,102.60 661.69,101.51 661.99,100.47 662.30,99.50 662.62,98.60 662.96,97.73 663.30,96.91 663.64,96.12 663.98,95.39 664.30,94.70 664.61,94.06 664.90,93.46 665.19,92.91 665.47,92.41 665.74,91.98 666.00,91.60 666.25,91.30 666.51,91.07 666.76,90.91 666.98,90.78 667.16,90.68 667.30,90.60 667.59,90.57 668.00,90.53 668.47,90.47 668.99,90.42 669.51,90.36 670.00,90.30 670.46,90.24 670.91,90.19 671.37,90.12 671.83,90.06 672.31,89.99 672.80,89.90 673.30,89.81 673.80,89.71 674.32,89.60 674.85,89.48 675.41,89.35 676.00,89.20 676.62,89.03 677.27,88.85 677.94,88.65 678.64,88.44 679.36,88.22 680.10,88.00 680.87,87.77 681.68,87.52 682.51,87.27 683.34,87.01 684.18,86.75 685.00,86.50 685.82,86.25 686.65,86.00 687.47,85.75 688.29,85.50 689.06,85.25 689.80,85.00 690.52,84.73 691.25,84.44 691.95,84.16 692.58,83.89 693.11,83.66 693.50,83.50" fill="none" stroke="#000000" stroke-width="2.20" stroke-linejoin="round" stroke-linecap="butt"/>
<polyline points="535.60,66.10 537.93,66.26 541.31,66.49 545.24,66.76 549.20,67.03 552.65,67.26 555.10,67.40 556.43,67.45 557.05,67.44 557.17,67.38 557.02,67.31 556.82,67.24 556.80,67.20 556.82,66.78 556.85,66.13 556.88,65.39 556.92,64.74 556.96,64.32 557.00,64.30 557.05,64.82 557.10,65.77 557.16,66.97 557.22,68.20 557.27,69.28 557.30,70.00 557.50,92.50 557.57,92.49 557.67,92.50 557.78,92.50 557.91,92.47 558.05,92.38 558.20,92.20 558.35,91.92 558.51,91.54 558.68,91.11 558.86,90.65 559.07,90.20 559.30,89.80 559.56,89.43 559.84,89.06 560.14,88.69 560.47,88.36 560.82,88.05 561.20,87.80 561.59,87.60 562.00,87.46 562.44,87.34 562.91,87.26 563.42,87.18 564.00,87.10 564.45,87.03 564.74,86.98 565.08,86.94 565.68,86.90 566.75,86.86 568.50,86.80 571.09,86.73 574.39,86.64 578.16,86.56 582.17,86.47 586.19,86.38 590.00,86.30 593.38,86.22 596.47,86.14 599.57,86.07 602.99,86.00 607.03,85.94 612.00,85.90 618.62,85.88 626.79,85.87 635.58,85.88 644.06,85.89 651.31,85.90 656.40,85.90 656.49,85.34 656.61,84.58 656.76,83.68 656.92,82.65 657.07,81.55 657.20,80.40 657.31,79.15 657.41,77.76 657.51,76.29 657.61,74.80 657.70,73.35 657.80,72.00 657.90,70.72 657.99,69.45 658.07,68.22 658.17,67.06 658.28,65.98 658.40,65.00 658.54,64.14 658.68,63.40 658.84,62.73 659.01,62.13 659.19,61.56 659.40,61.00 659.63,60.47 659.87,59.98 660.13,59.52 660.41,59.10 660.70,58.69 661.00,58.30 661.32,57.92 661.65,57.56 662.00,57.21 662.36,56.89 662.73,56.58 663.10,56.30 663.51,56.03 663.97,55.77 664.43,55.52 664.87,55.31 665.24,55.13 665.50,55.00 665.66,55.08 665.87,55.18 666.12,55.30 666.40,55.44 666.70,55.61 667.00,55.80 667.31,56.04 667.63,56.33 667.96,56.65 668.32,56.96 668.70,57.22 669.10,57.40 669.49,57.50 669.86,57.54 670.25,57.54 670.71,57.51 671.28,57.46 672.00,57.40 672.94,57.33 674.07,57.22 675.31,57.10 676.59,56.97 677.81,56.83 678.90,56.70 679.85,56.57 680.71,56.45 681.52,56.32 682.31,56.19 683.13,56.05 684.00,55.90 684.95,55.74 685.96,55.56 686.99,55.38 688.00,55.20 688.95,55.04 689.80,54.90 690.58,54.78 691.33,54.68 692.01,54.59 692.62,54.51 693.12,54.45 693.50,54.40" fill="none" stroke="#f5bd1f" stroke-width="2.50" stroke-linejoin="round" stroke-linecap="butt"/>
<polyline points="416.50,47.76 417.17,47.74 418.11,47.16 419.00,46.99 419.64,46.77 420.23,46.06 421.00,45.76 422.08,46.17 423.34,45.26 424.60,44.86 425.80,45.18 426.99,44.33 428.20,44.30 429.43,43.63 430.67,43.44 431.90,42.69 433.10,42.85 434.30,42.81 435.50,42.22 436.81,42.08 438.13,41.64 439.20,40.71 439.89,40.90 440.32,40.30 440.60,39.72" fill="none" stroke="#f5bd1f" stroke-width="3.10" stroke-linejoin="round" stroke-linecap="butt"/>
<line x1="79.20" y1="111.70" x2="79.20" y2="188.60" stroke="#e3141e" stroke-width="2.20" stroke-dasharray="8.00 5.75"/>
<line x1="176.50" y1="79.50" x2="176.50" y2="180.00" stroke="#e3141e" stroke-width="2.20" stroke-dasharray="8.00 5.90"/>
<line x1="319.90" y1="105.50" x2="319.90" y2="182.20" stroke="#e3141e" stroke-width="2.20" stroke-dasharray="7.60 5.80"/>
<line x1="420.60" y1="71.80" x2="420.60" y2="172.60" stroke="#e3141e" stroke-width="2.20" stroke-dasharray="8.00 6.00"/>
<line x1="558.30" y1="96.90" x2="558.30" y2="188.60" stroke="#e3141e" stroke-width="2.20" stroke-dasharray="8.00 5.95"/>
<line x1="656.00" y1="84.70" x2="656.00" y2="179.20" stroke="#e3141e" stroke-width="2.20" stroke-dasharray="8.00 5.90"/>
<rect x="78.30" y="38.00" width="2.60" height="14.40" fill="#e3141e"/>
<polygon points="76.00,51.90 83.20,51.90 79.60,58.70" fill="#e3141e"/>
<rect x="175.60" y="186.70" width="2.60" height="11.20" fill="#e3141e"/>
<polygon points="173.50,197.40 180.30,197.40 176.90,204.20" fill="#e3141e"/>
<rect x="318.40" y="34.30" width="2.60" height="13.40" fill="#e3141e"/>
<polygon points="316.30,47.20 323.10,47.20 319.70,54.10" fill="#e3141e"/>
<rect x="419.50" y="181.70" width="2.60" height="10.40" fill="#e3141e"/>
<polygon points="417.40,191.60 424.20,191.60 420.80,198.40" fill="#e3141e"/>
<rect x="555.20" y="41.80" width="2.60" height="14.50" fill="#e3141e"/>
<polygon points="552.90,55.80 560.10,55.80 556.50,62.50" fill="#e3141e"/>
<rect x="654.80" y="186.70" width="2.60" height="10.40" fill="#e3141e"/>
<polygon points="652.70,196.60 659.50,196.60 656.10,203.10" fill="#e3141e"/>
<rect x="655.0" y="183.7" width="2.2" height="1.6" fill="#e3141e"/>
<text x="51.19" y="32.50" font-family='"Liberation Sans", sans-serif' font-size="12.83" font-weight="normal" fill="#e3141e" text-anchor="start" textLength="62.29" lengthAdjust="spacingAndGlyphs" stroke="#e3141e" stroke-width="0.18">Sample IN</text>
<text x="144.91" y="215.40" font-family='"Liberation Sans", sans-serif' font-size="12.70" font-weight="normal" fill="#e3141e" text-anchor="start" textLength="75.59" lengthAdjust="spacingAndGlyphs" stroke="#e3141e" stroke-width="0.18">Sample OUT</text>
<text x="292.09" y="27.60" font-family='"Liberation Sans", sans-serif' font-size="12.42" font-weight="normal" fill="#e3141e" text-anchor="start" textLength="63.01" lengthAdjust="spacingAndGlyphs" stroke="#e3141e" stroke-width="0.18">Sample IN</text>
<text x="386.30" y="211.60" font-family='"Liberation Sans", sans-serif' font-size="12.56" font-weight="normal" fill="#e3141e" text-anchor="start" textLength="75.80" lengthAdjust="spacingAndGlyphs" stroke="#e3141e" stroke-width="0.18">Sample OUT</text>
<text x="528.39" y="35.00" font-family='"Liberation Sans", sans-serif' font-size="13.11" font-weight="normal" fill="#e3141e" text-anchor="start" textLength="63.12" lengthAdjust="spacingAndGlyphs" stroke="#e3141e" stroke-width="0.18">Sample IN</text>
<text x="622.90" y="214.50" font-family='"Liberation Sans", sans-serif' font-size="12.28" font-weight="normal" fill="#e3141e" text-anchor="start" textLength="76.10" lengthAdjust="spacingAndGlyphs" stroke="#e3141e" stroke-width="0.18">Sample OUT</text>
<text x="140.80" y="20.90" font-family='"Liberation Sans", sans-serif' font-size="13.23" font-weight="bold" fill="#0d0d0d" text-anchor="start" textLength="16.56" lengthAdjust="spacingAndGlyphs">AE</text>
<text x="378.04" y="23.40" font-family='"Liberation Sans", sans-serif' font-size="12.79" font-weight="bold" fill="#0d0d0d" text-anchor="start" textLength="43.07" lengthAdjust="spacingAndGlyphs">Not AE</text>
<text x="618.65" y="30.30" font-family='"Liberation Sans", sans-serif' font-size="12.14" font-weight="bold" fill="#0d0d0d" text-anchor="start" textLength="57.35" lengthAdjust="spacingAndGlyphs">Room Air</text>
<line x1="717.20" y1="23.40" x2="734.00" y2="23.40" stroke="#1818d0" stroke-width="1.70"/>
<text x="735.44" y="25.90" font-family='"Liberation Sans", sans-serif' font-size="8.28" font-weight="normal" fill="#404040" text-anchor="start" textLength="30.74" lengthAdjust="spacingAndGlyphs" stroke="#404040" stroke-width="0.22">TGS8100</text>
<line x1="717.20" y1="42.30" x2="734.00" y2="42.30" stroke="#000000" stroke-width="1.70"/>
<text x="735.00" y="44.80" font-family='"Liberation Sans", sans-serif' font-size="8.28" font-weight="normal" fill="#404040" text-anchor="start" textLength="51.34" lengthAdjust="spacingAndGlyphs" stroke="#404040" stroke-width="0.22">MiCS-6814#CO</text>
<line x1="717.20" y1="61.20" x2="734.00" y2="61.20" stroke="#f5bd1f" stroke-width="1.70"/>
<text x="734.99" y="63.70" font-family='"Liberation Sans", sans-serif' font-size="8.28" font-weight="normal" fill="#404040" text-anchor="start" textLength="56.34" lengthAdjust="spacingAndGlyphs" stroke="#404040" stroke-width="0.22">MiCS-6814#NH3</text>
<line x1="717.20" y1="80.10" x2="734.00" y2="80.10" stroke="#17a65a" stroke-width="1.70"/>
<text x="735.59" y="82.60" font-family='"Liberation Sans", sans-serif' font-size="8.28" font-weight="normal" fill="#404040" text-anchor="start" textLength="25.94" lengthAdjust="spacingAndGlyphs" stroke="#404040" stroke-width="0.22">AuWO3</text>
<text x="120.00" y="318.6" font-family='"Liberation Serif", serif' font-size="18" fill="#000">(<tspan font-weight="bold" font-size="19.5">a</tspan>)</text>
<text x="344.80" y="318.6" font-family='"Liberation Serif", serif' font-size="18" fill="#000">(<tspan font-weight="bold" font-size="19.5">b</tspan>)</text>
<text x="597.60" y="318.6" font-family='"Liberation Serif", serif' font-size="18" fill="#000">(<tspan font-weight="bold" font-size="19.5">c</tspan>)</text>
</svg>
</body></html>
